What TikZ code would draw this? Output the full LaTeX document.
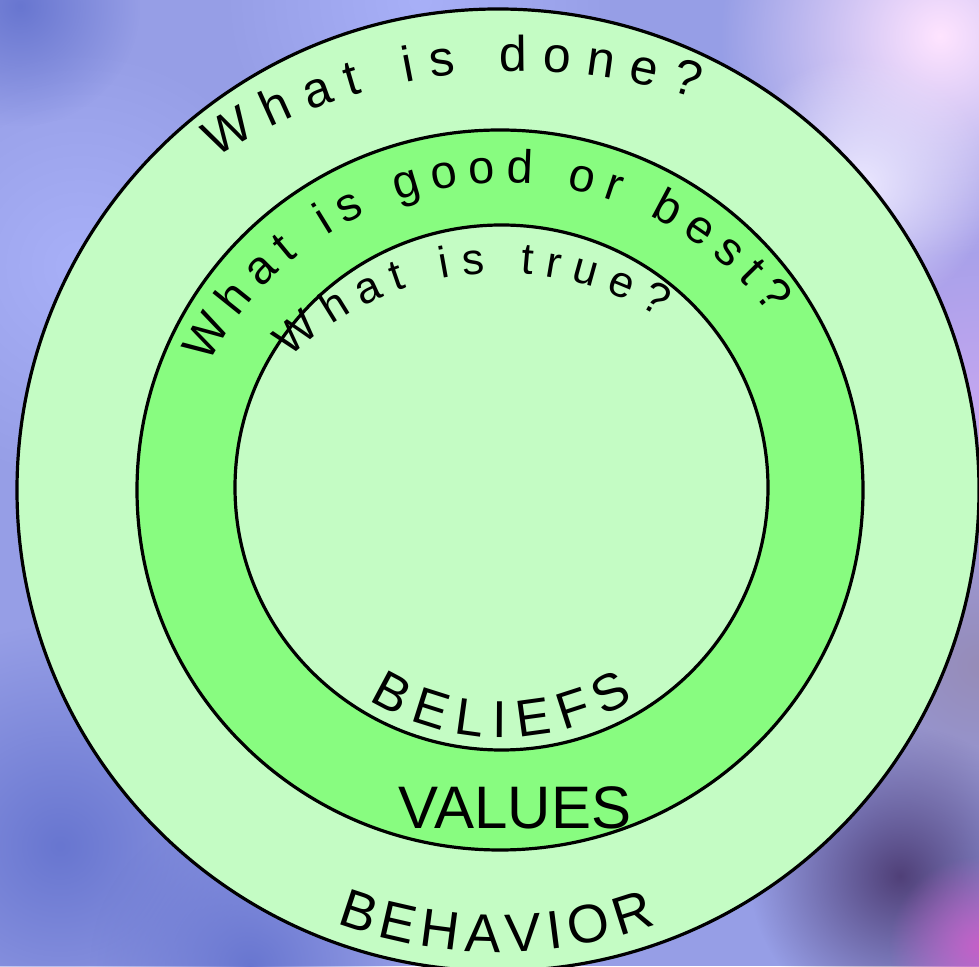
\documentclass[tikz,border=0pt]{standalone}
\usepackage{fontspec}
\setmainfont{Liberation Sans}
\usetikzlibrary{decorations.text,fadings}
\tikzfading[name=blob, inner color=transparent!0, outer color=transparent!100]
\definecolor{lightg}{RGB}{196,252,196}
\definecolor{midg}{RGB}{136,252,128}
\definecolor{bgbase}{RGB}{150,158,230}
\definecolor{pinkw}{RGB}{255,228,255}
\definecolor{lavw}{RGB}{236,232,255}
\definecolor{purp}{RGB}{196,166,240}
\definecolor{dkpurp}{RGB}{80,64,120}
\definecolor{magen}{RGB}{196,96,200}
\definecolor{grayp}{RGB}{150,140,184}
\definecolor{blueL}{RGB}{168,176,248}
\definecolor{blueD}{RGB}{104,118,208}
\newcommand\hwfont{\fontsize{50}{56}\selectfont}
\newcommand\hwmid{\fontsize{47}{52}\selectfont}
\newcommand\hwinner{\fontsize{44}{50}\selectfont}
\newcommand\capsA{\fontsize{52}{58}\selectfont}
\newcommand\capsB{\fontsize{54}{60}\selectfont}
\begin{document}
\begin{tikzpicture}[x=1pt,y=1pt,
  ring/.style={line width=3.2pt, draw=black},
  blobfill/.style={path fading=blob}]
\useasboundingbox (0,0) rectangle (979,966);
% background (blurred photo)
\fill[bgbase] (0,0) rectangle (979,966);
\begin{scope}
\clip (0,0) rectangle (979,966);
\fill[blueL, blobfill] (80,700) circle (220pt);
\fill[blueL, blobfill] (420,966) circle (200pt);
\fill[blueD, blobfill] (60,120) circle (220pt);
\fill[blueD, blobfill] (250,0) circle (160pt);
\fill[blueD, blobfill] (20,960) circle (120pt);
\fill[purp, blobfill] (979,560) circle (260pt);
\fill[pinkw, blobfill] (940,930) circle (220pt);
\fill[lavw, blobfill] (860,780) circle (130pt);
\fill[grayp, blobfill] (979,300) circle (200pt);
\fill[dkpurp, blobfill] (900,90) circle (150pt);
\fill[magen, blobfill] (979,20) circle (90pt);
\end{scope}
% circles
\draw[ring, fill=lightg] (498,476) ellipse [x radius=481pt, y radius=481pt];
\draw[ring, fill=midg] (500,476) ellipse [x radius=363pt, y radius=360pt];
\draw[ring, fill=lightg] (501.5,478.5) ellipse [x radius=266.5pt, y radius=262.5pt];
% curved questions
\path[decorate, decoration={text along path, text={|\hwfont|What is done?}, text align={fit to path}}]
  ([shift={(122:573pt)}]519,322) arc[start angle=122, end angle=72, radius=573pt];
\path[decorate, decoration={text along path, text={|\hwmid|What is good or best?}, text align={fit to path}}]
  ([shift={(153:332pt)}]505,451) arc[start angle=153, end angle=37, radius=332pt];
\path[decorate, decoration={text along path, text={|\hwinner|What is true?}, text align={fit to path}}]
  ([shift={(134.1:303pt)}]501,390) arc[start angle=134.1, end angle=58.4, radius=303pt];
% labels
\path[decorate, decoration={text along path, text={|\capsA|BELIEFS}, text align={fit to path}}]
  ([shift={(238:250pt)}]501.5,478.5) arc[start angle=238, end angle=302, radius=250pt];
\node[font=\fontsize{60}{66}\selectfont, inner sep=0pt] (values) at (515,158) {VALUES};
\path[decorate, decoration={text along path, text={|\capsB|BEHAVIOR}, text align={fit to path}}]
  ([shift={(249.5:462pt)}]498,476) arc[start angle=249.5, end angle=290, radius=462pt];
\end{tikzpicture}
\end{document}
